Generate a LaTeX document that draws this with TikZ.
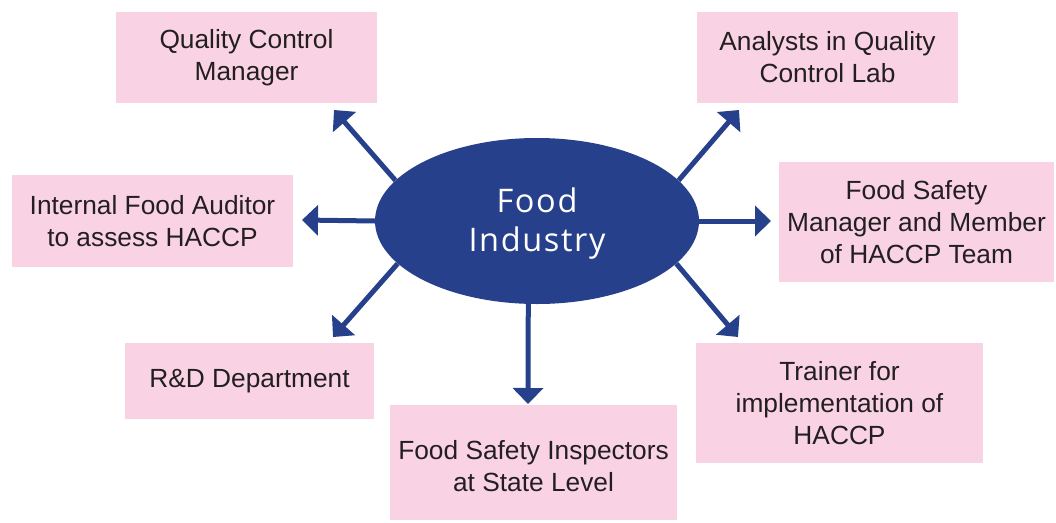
\documentclass[tikz,border=0pt]{standalone}
\usepackage{fontspec}
\setmainfont{Liberation Sans}
\newfontfamily\hubfont[LetterSpace=5]{Open Sans}
\usetikzlibrary{arrows.meta,shapes.geometric}
\definecolor{hubblue}{HTML}{27408B}
\definecolor{boxpink}{HTML}{F9D3E3}
\definecolor{boxtext}{HTML}{231F20}
\begin{document}
\begin{tikzpicture}[x=1pt,y=-1pt,
  rolebox/.style={fill=boxpink,draw=none,text=boxtext,align=center,
    font=\fontsize{26.3}{32}\selectfont,inner sep=0pt},
  spoke/.style={draw=hubblue,line width=5pt,
    -{Triangle[length=16pt,width=30pt]}}]
\useasboundingbox (0,0) rectangle (1056,522);
% central hub
\node[ellipse,fill=hubblue,minimum width=324pt,minimum height=166pt,inner sep=0pt,
  text=white,align=center,font=\hubfont\fontsize{32.5}{39}\selectfont] (hub) at (537,221)
  {\rule{0pt}{30pt}Food\\Industry};
% role boxes
\node[rolebox,minimum width=261pt,minimum height=91pt] (qcm) at (246.5,57.5) {Quality Control\\Manager};
\node[rolebox,minimum width=261pt,minimum height=91pt] (lab) at (827.5,57.5) {Analysts in Quality\\Control Lab};
\node[rolebox,minimum width=281pt,minimum height=92pt] (aud) at (152.5,221) {Internal Food Auditor\\to assess HACCP};
\node[rolebox,minimum width=275pt,minimum height=120pt] (fsm) at (916.5,222) {Food Safety\\Manager and Member\\of HACCP Team};
\node[rolebox,minimum width=249pt,minimum height=76pt] (rnd) at (249.5,381) {R\&D Department};
\node[rolebox,minimum width=287pt,minimum height=120pt] (trn) at (839.5,403) {Trainer for\\implementation of\\HACCP};
\node[rolebox,minimum width=287pt,minimum height=115pt] (fsi) at (533.5,462.5) {\rule{0pt}{27pt}Food Safety Inspectors\\at State Level};
% arrow tips
\coordinate (tqcm) at (334,110);
\coordinate (tlab) at (739,110);
\coordinate (taud) at (302,220);
\coordinate (tfsm) at (771,221);
\coordinate (trnd) at (333,337);
\coordinate (tfsi) at (528,404);
\coordinate (ttrn) at (738,337);
% spokes
\draw[spoke] (hub.164) -- (tqcm);
\draw[spoke] (hub.16) -- (tlab);
\draw[spoke] (hub.west) -- (taud);
\draw[spoke] (hub.east) -- (tfsm);
\draw[spoke] (hub.-163) -- (trnd);
\draw[spoke] (hub.-96) -- (tfsi);
\draw[spoke] (hub.-17) -- (ttrn);
\end{tikzpicture}
\end{document}
